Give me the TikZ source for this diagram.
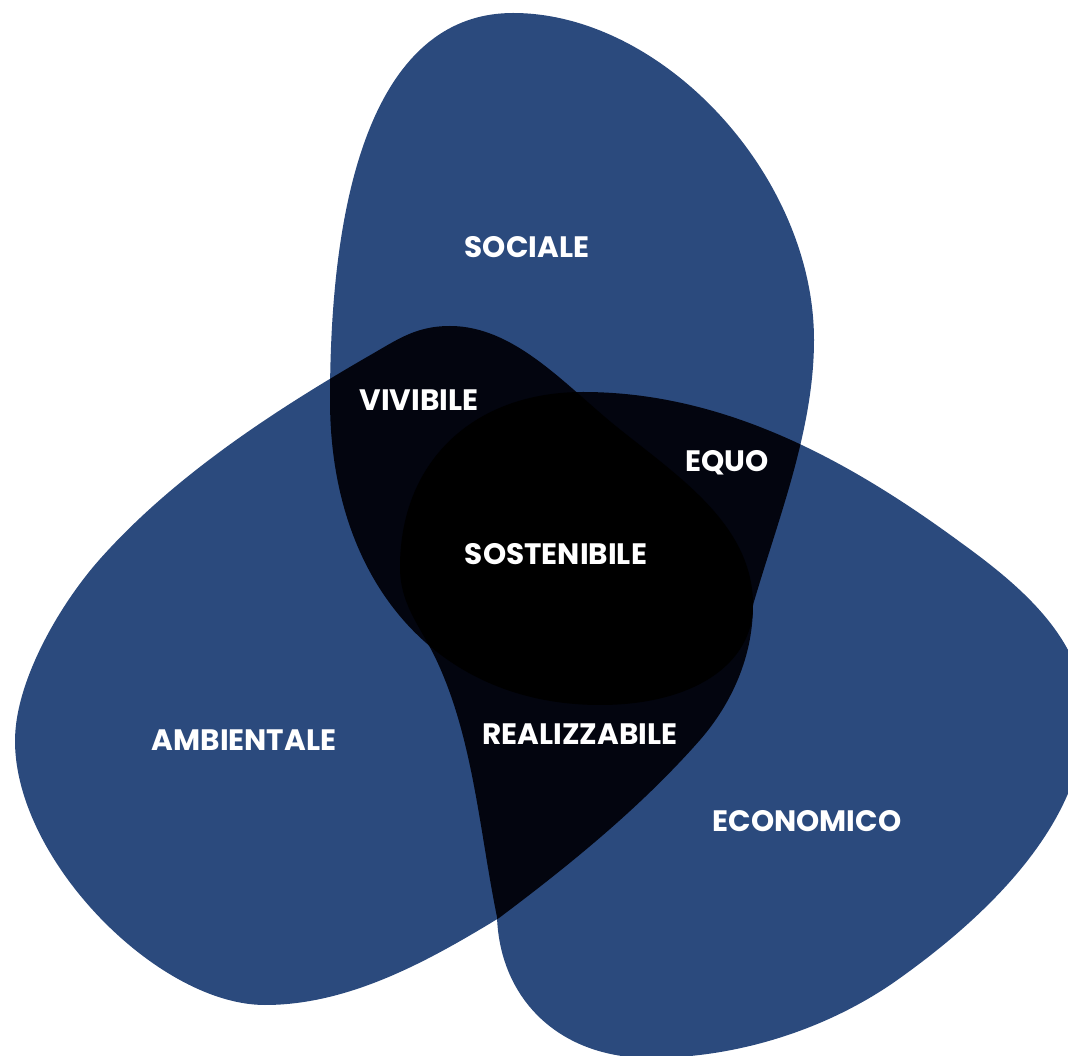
\documentclass[tikz,border=0pt]{standalone}
\usepackage{fontspec}
\setmainfont{Poppins}
\definecolor{rbuyxd}{rgb}{0.17,0.29,0.49}
\definecolor{qtqvqf}{rgb}{0.01,0.02,0.06}
\def\sociale{(513,13) .. controls (663,13) and (814,176) .. (814,340) .. controls (814,430) and (778,519) .. (753,605) .. controls (753,665) and (692,705) .. (600,705) .. controls (438,705) and (330,583) .. (330,400) .. controls (330,148) and (394,13) .. (513,13) -- cycle}
\def\ambientale{(450,326) .. controls (515,326) and (566,386) .. (617,427) .. controls (679,477) and (753,525) .. (753,605) .. controls (753,655) and (733,702) .. (700,740) .. controls (641,807) and (571,864) .. (499,918) .. controls (430,960) and (350,1005) .. (265,1005) .. controls (158,1005) and (15,860) .. (15,741) .. controls (15,681) and (60,604) .. (100,559) .. controls (173,477) and (272,412) .. (367,357) .. controls (397,340) and (415,326) .. (450,326) -- cycle}
\def\economico{(400,567) .. controls (400,462) and (473,392) .. (583,392) .. controls (723,392) and (847,459) .. (960,542) .. controls (1021,586) and (1085,640) .. (1085,715) .. controls (1085,825) and (983,920) .. (893,983) .. controls (823,1031) and (735,1058) .. (650,1058) .. controls (560,1058) and (500,1000) .. (497,917) .. controls (479,829) and (473,733) .. (433,653) .. controls (417,622) and (400,602) .. (400,567) -- cycle}

\begin{document}
\begin{tikzpicture}[line cap=round,line join=round,x=0.025cm,y=-0.025cm,
  etichetta/.style={text=white,font=\bfseries\fontsize{21}{25}\selectfont}]
\useasboundingbox (0,0) rectangle (1068,1056);
\clip(0,0) rectangle (1068,1056);
\fill[color=rbuyxd] \sociale;
\fill[color=rbuyxd] \ambientale;
\fill[color=rbuyxd] \economico;
% overlaps of two
\begin{scope}
\clip \sociale;
\fill[color=qtqvqf] \ambientale;
\fill[color=qtqvqf] \economico;
\end{scope}
\begin{scope}
\clip \ambientale;
\fill[color=qtqvqf] \economico;
\end{scope}
% overlap of all three
\begin{scope}
\clip \sociale;
\clip \ambientale;
\fill[color=black] \economico;
\end{scope}
\draw (527,247) node[etichetta] (sociale) {SOCIALE};
\draw (419,400) node[etichetta] (vivibile) {VIVIBILE};
\draw (727,463) node[etichetta] (equo) {EQUO};
\draw (556,554) node[etichetta] (sostenibile) {SOSTENIBILE};
\draw (244,740) node[etichetta] (ambientale) {AMBIENTALE};
\draw (580,734) node[etichetta] (realizzabile) {REALIZZABILE};
\draw (807,821) node[etichetta] (economico) {ECONOMICO};
\end{tikzpicture}
\end{document}
